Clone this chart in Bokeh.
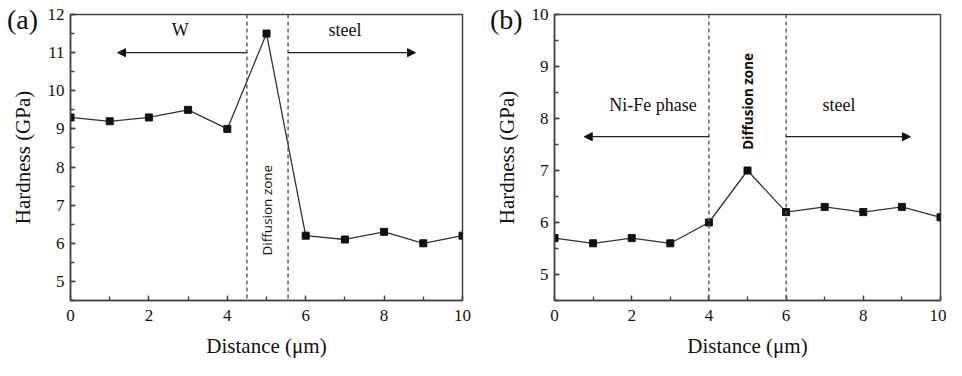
import math
from bokeh.plotting import figure
from bokeh.layouts import row
from bokeh.models import Range1d, SingleIntervalTicker, Span, Arrow, NormalHead, Label, Div
from bokeh.embed import file_html
from bokeh.resources import INLINE

distance = [0, 1, 2, 3, 4, 5, 6, 7, 8, 9, 10]
hardness_a = [9.3, 9.2, 9.3, 9.5, 9.0, 11.5, 6.2, 6.1, 6.3, 6.0, 6.2]
hardness_b = [5.7, 5.6, 5.7, 5.6, 6.0, 7.0, 6.2, 6.3, 6.2, 6.3, 6.1]

zones_a = [4.5, 5.55]
zones_b = [4.0, 6.0]

panel_tags = ["(a)", "(b)"]

SERIF = "Liberation Serif"
SANS = "Open Sans"
AX = "#444444"


def make_panel(y, yr, zones, left_text, left_x, right_x, arrow_y, text_y,
               left_end, right_end, dz_y, min_left, min_right, dz_size, bold_dz=False):
    p = figure(width=473, height=360, x_range=Range1d(0, 10), y_range=Range1d(*yr),
               output_backend="svg", toolbar_location=None,
               min_border_left=min_left, min_border_right=min_right,
               min_border_top=14, min_border_bottom=57)
    p.xgrid.visible = False
    p.ygrid.visible = False
    p.outline_line_color = AX
    p.outline_line_width = 1.5
    p.xaxis.ticker = SingleIntervalTicker(interval=2, num_minor_ticks=2)
    p.yaxis.ticker = SingleIntervalTicker(interval=1, num_minor_ticks=2)
    for ax in (p.xaxis, p.yaxis):
        ax.axis_line_color = AX
        ax.axis_line_width = 1.5
        ax.major_tick_line_color = AX
        ax.minor_tick_line_color = AX
        ax.major_tick_line_width = 1.3
        ax.minor_tick_line_width = 1.3
        ax.major_tick_in = 5
        ax.major_tick_out = 0
        ax.minor_tick_in = 4
        ax.minor_tick_out = 0
        ax.major_label_text_font = SERIF
        ax.major_label_text_font_size = "17px"
        ax.major_label_text_color = "#111111"
        ax.axis_label_text_font = SERIF
        ax.axis_label_text_font_size = "21px"
        ax.axis_label_text_font_style = "normal"
        ax.axis_label_text_color = "#111111"
    p.xaxis.major_label_standoff = 9
    p.yaxis.major_label_standoff = 6
    p.xaxis.axis_label = "Distance (μm)"
    p.yaxis.axis_label = "Hardness (GPa)"
    p.xaxis.axis_label_standoff = 10
    p.yaxis.axis_label_standoff = 10

    for z in zones:
        p.add_layout(Span(location=z, dimension="height", line_color="#555555",
                          line_width=1.4, line_dash="4 3"))

    p.line(distance, y, line_color="#333333", line_width=1.3)
    p.scatter(distance, y, marker="square", size=7, fill_color="#111111",
              line_color="#111111")

    p.add_layout(Arrow(end=NormalHead(size=8, fill_color="#111111", line_color="#111111"),
                       x_start=zones[0], y_start=arrow_y, x_end=left_end, y_end=arrow_y,
                       line_color="#222222", line_width=1.3))
    p.add_layout(Arrow(end=NormalHead(size=8, fill_color="#111111", line_color="#111111"),
                       x_start=zones[1], y_start=arrow_y, x_end=right_end, y_end=arrow_y,
                       line_color="#222222", line_width=1.3))

    p.add_layout(Label(x=left_x, y=text_y, text=left_text, text_font=SERIF,
                       text_font_size="18px", text_align="center", text_color="#111111"))
    p.add_layout(Label(x=right_x, y=text_y, text="steel", text_font=SERIF,
                       text_font_size="18px", text_align="center", text_color="#111111"))
    p.add_layout(Label(x=5.0, y=dz_y, text="Diffusion zone", text_font=SANS,
                       text_font_size=dz_size, text_align="center", text_baseline="middle",
                       angle=math.pi / 2, text_color="#111111",
                       text_font_style="bold" if bold_dz else "normal"))
    return p


pa = make_panel(hardness_a, (4.5, 12), zones_a, "W", 2.8, 7.0, 11.0, 11.33,
                1.2, 8.8, 6.87, 70, 11, "13.5px")

pb = make_panel(hardness_b, (4.5, 10), zones_b, "Ni-Fe phase", 2.55, 7.37, 7.65, 8.06,
                0.77, 9.22, 8.33, 81, 6, "13.5px", bold_dz=True)


def tag_div(text, left):
    return Div(text=text, width=44, height=32,
               styles={"position": "absolute", "left": f"{left}px", "top": "1px",
                       "font-family": SERIF, "font-size": "28px", "line-height": "1",
                       "color": "#111111", "z-index": "10"})


layout = row(pa, pb, tag_div(panel_tags[0], 2), tag_div(panel_tags[1], 485))
open("out.html", "w").write(file_html(layout, INLINE))
